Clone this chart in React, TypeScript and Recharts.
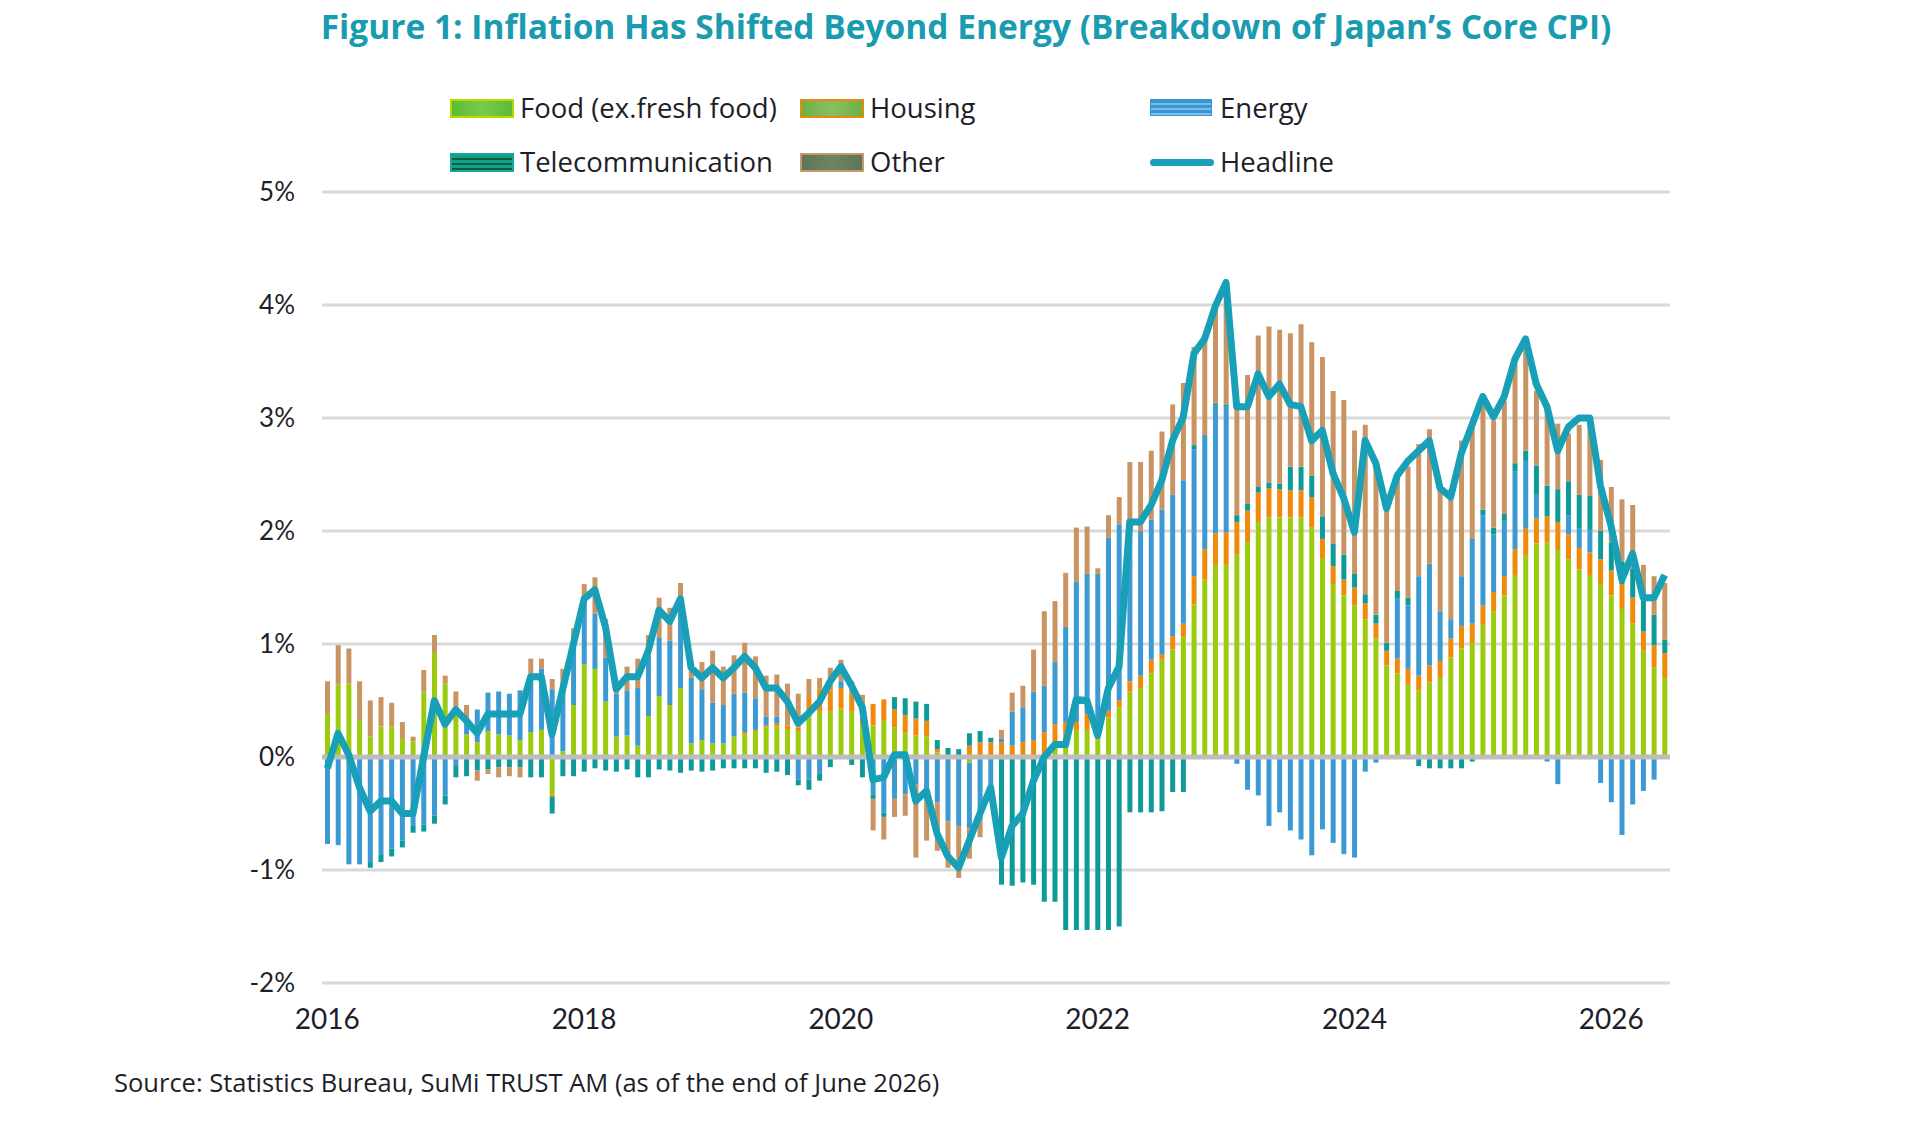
import React from 'react';
import { ComposedChart, Bar, Line, XAxis, YAxis, CartesianGrid, ReferenceLine } from 'recharts';

const years = ['2016', '2017', '2018', '2019', '2020', '2021', '2022', '2023', '2024', '2025', '2026'];
const monthCodes = ['01', '02', '03', '04', '05', '06', '07', '08', '09', '10', '11', '12'];
const lastMonth = '2026-06';
const yearTickMonths = ['2016-01', '2018-01', '2020-01', '2022-01', '2024-01', '2026-01'];
const yTicks = [-2, -1, 0, 1, 2, 3, 4, 5];

const food = [
  0.38, 0.64, 0.65, 0.32, 0.18, 0.27, 0.27, 0.16, 0.14, 0.58, 0.92, 0.65,
  0.45, 0.2, 0.13, 0.23, 0.2, 0.19, 0.15, 0.22, 0.24, -0.33, 0.05, 0.46,
  0.82, 0.78, 0.49, 0.18, 0.19, 0.1, 0.36, 0.54, 0.46, 0.61, 0.12, 0.15,
  0.12, 0.12, 0.18, 0.2, 0.23, 0.26, 0.27, 0.24, 0.23, 0.35, 0.4, 0.4,
  0.43, 0.4, 0.28, 0.28, 0.32, 0.26, 0.22, 0.19, 0.18, 0.04, 0, 0,
  -0.05, 0, 0, 0, 0, 0, 0, 0, 0.08, 0.14, 0.24, 0.24,
  0.17, 0.35, 0.44, 0.58, 0.61, 0.74, 0.86, 0.95, 1.06, 1.35, 1.57, 1.7,
  1.7, 1.79, 1.9, 2.08, 2.12, 2.12, 2.12, 2.12, 2.03, 1.76, 1.53, 1.43,
  1.34, 1.22, 1.05, 0.81, 0.74, 0.64, 0.59, 0.66, 0.7, 0.88, 0.96, 1.01,
  1.17, 1.29, 1.43, 1.61, 1.78, 1.89, 1.9, 1.84, 1.75, 1.66, 1.61, 1.53,
  1.43, 1.31, 1.18, 0.94, 0.79, 0.7,
];
const housing = [
  0, 0, 0, 0, 0, 0, 0, 0, 0, 0, 0, 0,
  0, 0, 0, 0, 0, 0, 0, 0, 0, -0.02, 0, 0,
  0, 0, 0, 0, 0, 0, 0, 0, 0, 0, 0, 0,
  0, 0, 0, 0.02, 0.01, 0.02, 0.03, 0.04, 0.03, 0.18, 0.2, 0.19,
  0.18, 0.14, 0.22, 0.19, 0.19, 0.16, 0.15, 0.15, 0.14, 0.03, 0, 0,
  0.1, 0.13, 0.13, 0.13, 0.1, 0.13, 0.15, 0.22, 0.21, 0.17, 0.07, 0.14,
  0.1, 0.06, 0.06, 0.09, 0.11, 0.12, 0.05, 0.12, 0.12, 0.25, 0.27, 0.28,
  0.29, 0.29, 0.28, 0.26, 0.26, 0.25, 0.24, 0.24, 0.27, 0.17, 0.16, 0.14,
  0.16, 0.14, 0.13, 0.13, 0.13, 0.14, 0.13, 0.15, 0.15, 0.17, 0.2, 0.17,
  0.17, 0.17, 0.17, 0.23, 0.24, 0.22, 0.23, 0.24, 0.22, 0.19, 0.2, 0.22,
  0.22, 0.22, 0.23, 0.17, 0.2, 0.22,
];
const energy = [
  -0.77, -0.78, -0.95, -0.95, -0.93, -0.86, -0.81, -0.74, -0.61, -0.6, -0.52, -0.34,
  -0.08, 0.13, 0.29, 0.34, 0.38, 0.37, 0.44, 0.5, 0.54, 0.6, 0.6, 0.61,
  0.61, 0.49, 0.39, 0.38, 0.4, 0.51, 0.54, 0.52, 0.57, 0.71, 0.58, 0.45,
  0.36, 0.34, 0.38, 0.35, 0.28, 0.08, 0.06, 0, -0.2, -0.2, -0.15, 0,
  0.06, 0, 0, -0.33, -0.49, -0.37, -0.33, -0.24, -0.39, -0.4, -0.57, -0.61,
  -0.58, -0.56, -0.29, 0.03, 0.3, 0.31, 0.43, 0.41, 0.55, 0.84, 1.24, 1.24,
  1.35, 1.53, 1.56, 1.41, 1.28, 1.24, 1.28, 1.25, 1.27, 1.12, 1.01, 1.13,
  1.11, -0.06, -0.29, -0.34, -0.61, -0.49, -0.65, -0.73, -0.87, -0.64, -0.76, -0.86,
  -0.89, -0.13, -0.05, 0, 0.53, 0.56, 0.88, 0.9, 0.44, 0.17, 0.44, 0.75,
  0.8, 0.51, 0.49, 0.69, 0.6, 0.21, -0.04, -0.24, 0.17, 0.17, 0.2, -0.23,
  -0.4, -0.69, -0.42, -0.3, -0.2, 0,
];
const telecom = [
  0, 0, 0, 0, -0.05, -0.07, -0.07, -0.06, -0.06, -0.06, -0.07, -0.08,
  -0.1, -0.17, -0.12, -0.11, -0.09, -0.09, -0.09, -0.18, -0.18, -0.15, -0.17, -0.17,
  -0.13, -0.1, -0.12, -0.13, -0.11, -0.18, -0.18, -0.11, -0.12, -0.14, -0.12, -0.13,
  -0.12, -0.1, -0.1, -0.1, -0.1, -0.14, -0.13, -0.16, -0.05, -0.09, -0.06, -0.09,
  0, -0.07, -0.18, -0.04, -0.04, 0.11, 0.15, 0.15, 0.15, 0.08, 0.08, 0.07,
  0.11, 0.1, 0.04, -1.13, -1.14, -1.11, -1.13, -1.28, -1.28, -1.53, -1.53, -1.53,
  -1.53, -1.53, -1.5, -0.49, -0.49, -0.49, -0.48, -0.31, -0.31, 0.04, 0, 0.02,
  0.02, 0.06, 0.06, 0.05, 0.05, 0.05, 0.21, 0.21, 0.19, 0.2, 0.2, 0.22,
  0.12, 0.08, 0.08, 0.07, 0.07, 0.07, -0.08, -0.1, -0.1, -0.1, -0.1, -0.04,
  0.05, 0.06, 0.06, 0.07, 0.09, 0.26, 0.27, 0.29, 0.3, 0.3, 0.3, 0.25,
  0.25, 0.2, 0.26, 0.3, 0.27, 0.12,
];
const other = [
  0.29, 0.35, 0.31, 0.35, 0.32, 0.26, 0.21, 0.15, 0.04, 0.19, 0.16, 0.07,
  0.13, 0.13, -0.09, -0.04, -0.09, -0.08, -0.09, 0.15, 0.09, 0.09, 0.13, 0.07,
  0.1, 0.32, 0.34, 0.09, 0.21, 0.26, 0.18, 0.35, 0.29, 0.22, 0.06, 0.24,
  0.46, 0.34, 0.34, 0.44, 0.37, 0.36, 0.37, 0.37, 0.3, 0.16, 0.1, 0.2,
  0.19, 0.13, 0.05, -0.28, -0.2, -0.16, -0.19, -0.65, -0.35, -0.43, -0.41, -0.46,
  -0.27, -0.15, 0, 0.08, 0.17, 0.19, 0.37, 0.66, 0.54, 0.48, 0.48, 0.42,
  0.05, 0.2, 0.24, 0.53, 0.61, 0.61, 0.69, 0.8, 0.86, 0.87, 0.83, 0.88,
  1.08, 0.94, 1.14, 1.34, 1.38, 1.36, 1.18, 1.26, 1.18, 1.41, 1.35, 1.37,
  1.27, 1.5, 1.35, 1.17, 1.04, 1.16, 1.17, 1.19, 1.1, 1.15, 1.2, 1.03,
  0.94, 0.95, 1.0, 0.88, 0.9, 0.66, 0.72, 0.58, 0.42, 0.62, 0.67, 0.63,
  0.49, 0.55, 0.56, 0.29, 0.34, 0.5,
];
const headline = [
  -0.1, 0.21, 0.02, -0.27, -0.48, -0.39, -0.39, -0.5, -0.5, 0.0, 0.5, 0.29,
  0.42, 0.32, 0.21, 0.38, 0.38, 0.38, 0.38, 0.71, 0.71, 0.2, 0.6, 1.0,
  1.4, 1.48, 1.15, 0.6, 0.71, 0.71, 0.94, 1.3, 1.2, 1.4, 0.79, 0.7,
  0.79, 0.7, 0.79, 0.89, 0.79, 0.61, 0.61, 0.49, 0.3, 0.39, 0.49, 0.67,
  0.8, 0.63, 0.44, -0.2, -0.18, 0.02, 0.02, -0.39, -0.3, -0.68, -0.88, -0.98,
  -0.74, -0.5, -0.27, -0.89, -0.61, -0.5, -0.21, 0.0, 0.11, 0.11, 0.51, 0.5,
  0.19, 0.61, 0.8, 2.08, 2.08, 2.23, 2.45, 2.8, 3.01, 3.57, 3.7, 3.99,
  4.2, 3.1, 3.1, 3.39, 3.19, 3.3, 3.12, 3.1, 2.8, 2.89, 2.51, 2.29,
  1.99, 2.8, 2.6, 2.2, 2.49, 2.62, 2.71, 2.8, 2.38, 2.3, 2.69, 2.94,
  3.19, 3.01, 3.19, 3.52, 3.7, 3.3, 3.1, 2.71, 2.92, 3.0, 3.0, 2.4,
  2.04, 1.57, 1.8, 1.41, 1.41, 1.61,
];

const months: string[] = [];
years.forEach((y) => monthCodes.forEach((m) => {
  const code = `${y}-${m}`;
  if (code <= lastMonth) months.push(code);
}));

const data = months.map((month, i) => ({
  month,
  food: food[i],
  housing: housing[i],
  energy: energy[i],
  telecom: telecom[i],
  other: other[i],
  headline: headline[i],
}));

const COLORS = {
  food: '#9BCB0C',
  housing: '#F08A0B',
  energy: '#3C9AD2',
  telecom: '#0E9A98',
  other: '#C99462',
  headline: '#17A0B8',
};

const FONT = 'Lato, "Open Sans", sans-serif';
const FONT2 = '"Open Sans", Lato, sans-serif';
const TEXT = '#1E1E2A';

const legendItems = [
  { label: 'Food (ex.fresh food)', x: 450, y: 99, kind: 'food' },
  { label: 'Housing', x: 800, y: 99, kind: 'housing' },
  { label: 'Energy', x: 1150, y: 99, kind: 'energy' },
  { label: 'Telecommunication', x: 450, y: 153, kind: 'telecom' },
  { label: 'Other', x: 800, y: 153, kind: 'other' },
  { label: 'Headline', x: 1150, y: 153, kind: 'headline' },
];

const iconStyle = (kind: string): React.CSSProperties => {
  const base: React.CSSProperties = { position: 'absolute', width: 60, height: 15, boxSizing: 'content-box' };
  switch (kind) {
    case 'food':
      return { ...base, background: 'linear-gradient(90deg,#5CBB34,#7ACB4A 50%,#5CBB34)', border: '2px solid #B8D800' };
    case 'housing':
      return { ...base, background: 'linear-gradient(90deg,#6CB04A,#8DBE5E 50%,#6CB04A)', border: '2px solid #E58A14' };
    case 'energy':
      return { ...base, background: 'repeating-linear-gradient(180deg,#3A96D0 0px,#3A96D0 3px,#7DBCE6 3px,#7DBCE6 5px)', border: '1px solid #3A96D0' };
    case 'telecom':
      return { ...base, background: 'repeating-linear-gradient(180deg,#12A08C 0px,#12A08C 3px,#0B5E3A 3px,#0B5E3A 5px)', border: '2px solid #14A89A' };
    case 'other':
      return { ...base, background: 'linear-gradient(90deg,#5F7556,#6E8563 50%,#5F7556)', border: '2px solid #C49A6C' };
    default:
      return { ...base, width: 64, height: 0, borderTop: `7px solid ${COLORS.headline}`, borderRadius: 4 };
  }
};

const xTickFormatter = (v: string) => (yearTickMonths.includes(v) ? v.slice(0, 4) : '');

export default function App() {
  return (
    <div style={{ position: 'absolute', left: 0, top: 0, width: 1920, height: 1128, background: '#fff', fontFamily: FONT }}>
      <div style={{ position: 'absolute', left: 0, top: 6, width: 1932, textAlign: 'center', fontFamily: FONT2, fontSize: 33.5, lineHeight: '40px', fontWeight: 700, color: '#1A9BB0', whiteSpace: 'nowrap' }}>
        Figure 1: Inflation Has Shifted Beyond Energy (Breakdown of Japan’s Core CPI)
      </div>
      {legendItems.map((it) => (
        <div key={it.label} style={{ position: 'absolute', left: it.x, top: it.y, height: 19 }}>
          <div style={{ ...iconStyle(it.kind), left: 0, top: it.kind === 'headline' ? 6 : 0 }} />
          <div style={{ position: 'absolute', left: 70, top: -8, fontFamily: FONT2, fontSize: 27.5, lineHeight: '34px', color: TEXT, whiteSpace: 'nowrap' }}>{it.label}</div>
        </div>
      ))}
      <div style={{ position: 'absolute', left: 0, top: 0 }}>
        <ComposedChart
          width={1920}
          height={1128}
          data={data}
          stackOffset="sign"
          margin={{ top: 192, right: 250, bottom: 85, left: 0 }}
        >
          <CartesianGrid vertical={false} stroke="#D9D9D9" strokeWidth={3} />
          <XAxis
            dataKey="month"
            interval={0}
            tickFormatter={xTickFormatter}
            axisLine={false}
            tickLine={false}
            tickSize={0}
            tickMargin={26}
            height={60}
            tick={{ fontSize: 28, fill: TEXT, fontFamily: FONT }}
          />
          <YAxis
            domain={[-2, 5]}
            ticks={yTicks}
            interval={0}
            tickFormatter={(v: number) => `${v}%`}
            axisLine={false}
            tickLine={false}
            tickSize={0}
            tickMargin={27}
            width={322}
            tick={{ fontSize: 26, fill: TEXT, fontFamily: FONT }}
          />
          <Bar dataKey="food" stackId="a" barSize={5} fill={COLORS.food} isAnimationActive={false} />
          <Bar dataKey="housing" stackId="a" barSize={5} fill={COLORS.housing} isAnimationActive={false} />
          <Bar dataKey="energy" stackId="a" barSize={5} fill={COLORS.energy} isAnimationActive={false} />
          <Bar dataKey="telecom" stackId="a" barSize={5} fill={COLORS.telecom} isAnimationActive={false} />
          <Bar dataKey="other" stackId="a" barSize={5} fill={COLORS.other} isAnimationActive={false} />
          <ReferenceLine y={0} stroke="#BDBDBD" strokeWidth={5} />
          <Line
            dataKey="headline"
            type="linear"
            stroke={COLORS.headline}
            strokeWidth={7}
            strokeLinejoin="round"
            dot={false}
            activeDot={false}
            isAnimationActive={false}
          />
        </ComposedChart>
      </div>
      <div style={{ position: 'absolute', left: 114, top: 1066, fontFamily: FONT2, fontSize: 25.5, lineHeight: '32px', color: TEXT, whiteSpace: 'nowrap' }}>
        Source: Statistics Bureau, SuMi TRUST AM (as of the end of June 2026)
      </div>
    </div>
  );
}
